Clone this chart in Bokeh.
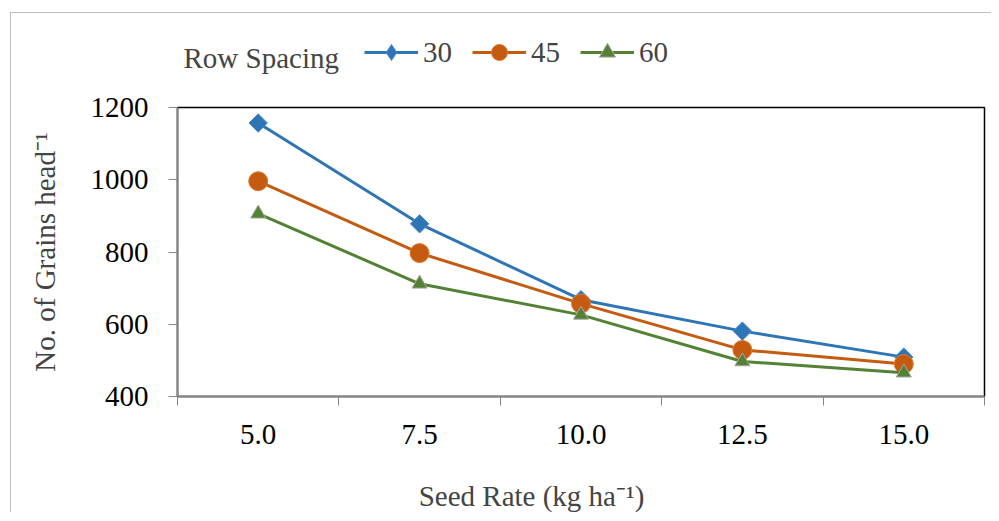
import numpy as np
from bokeh.plotting import figure
from bokeh.layouts import column
from bokeh.models import (Range1d, FixedTicker, NumeralTickFormatter, Legend,
                          LegendItem, Label)
from bokeh.embed import file_html
from bokeh.resources import INLINE

# ---- data ----
seed_rate = [5.0, 7.5, 10.0, 12.5, 15.0]
rs30 = [1157, 878, 668, 581, 509]
rs45 = [996, 797, 657, 529, 490]
rs60 = [906, 712, 626, 497, 466]
y_ticks = [400, 600, 800, 1000, 1200]
series_names = ["30", "45", "60"]
legend_title = "Row Spacing"
x_title = "Seed Rate (kg ha\u207b\u00b9)"
y_title = "No. of Grains head\u207b\u00b9"

FONT = "Liberation Serif"
FS = "29px"
AXIS_GRAY = "#868686"
W = 980

styles = [
    dict(color="#2E75B6", edge="#4A8BCB", marker="square", size=13, angle=np.pi / 4,
         leg_marker="diamond"),
    dict(color="#C55A11", edge="#E07A2E", marker="circle", size=19, angle=0.0,
         leg_marker="circle"),
    dict(color="#548235", edge="#A5A5A5", marker="triangle", size=15, angle=0.0,
         leg_marker="triangle"),
]
series_values = [rs30, rs45, rs60]

step = seed_rate[1] - seed_rate[0]
bounds = [seed_rate[0] - step / 2] + [r + step / 2 for r in seed_rate]


def blank_fig(height):
    f = figure(width=W, height=height, output_backend="svg", toolbar_location=None,
               x_axis_type=None, y_axis_type=None, min_border=0,
               x_range=Range1d(0, 1), y_range=Range1d(0, 1))
    f.outline_line_color = None
    f.background_fill_color = "white"
    f.border_fill_color = "white"
    f.xgrid.visible = False
    f.ygrid.visible = False
    return f


# ---------- top strip: legend (its frame is aligned with the main plot frame) ----------
top = blank_fig(74)
items = []
for name, ys, st in zip(series_names, series_values, styles):
    # swatch renderers: same series, but out of this strip's view, so only the
    # legend swatches are visible
    lr = top.line(seed_rate, ys, line_color=st["color"], line_width=3)
    sw = top.scatter(seed_rate, ys, marker=st["leg_marker"], fill_color=st["color"],
                     line_color=st["edge"], line_width=1)
    items.append(LegendItem(label=name, renderers=[lr, sw]))
legend = Legend(items=items, orientation="horizontal", location=(187, 15),
                padding=0, margin=0, spacing=20, glyph_width=54, glyph_height=40,
                label_height=34, label_standoff=5, label_text_font=FONT,
                label_text_font_size=FS, border_line_color=None,
                background_fill_alpha=0)
top.add_layout(legend)
top.add_layout(Label(x=6, y=30, x_units="screen", y_units="screen",
                     text=legend_title, text_align="left", text_baseline="middle",
                     text_font=FONT, text_font_size=FS))

# ---------- main plot ----------
p = figure(width=W, height=373, output_backend="svg", toolbar_location=None,
           x_range=Range1d(bounds[0], bounds[-1]),
           y_range=Range1d(y_ticks[0], y_ticks[-1]),
           min_border_left=166, min_border_right=7,
           min_border_top=20, min_border_bottom=64)
p.background_fill_color = "white"
p.border_fill_color = "white"
p.outline_line_color = "black"
p.outline_line_width = 1.5
p.xgrid.visible = False
p.ygrid.visible = False

for ys, st in zip(series_values, styles):
    p.line(seed_rate, ys, line_color=st["color"], line_width=3)
    p.scatter(seed_rate, ys, marker=st["marker"], size=st["size"],
              angle=st["angle"], fill_color=st["color"],
              line_color=st["edge"], line_width=1)

# x axis (ticks between categories, labels at the rates)
p.xaxis.ticker = FixedTicker(ticks=seed_rate, minor_ticks=bounds)
p.xaxis.formatter = NumeralTickFormatter(format="0.0")
p.xaxis.major_tick_out = 0
p.xaxis.major_tick_in = 0
p.xaxis.minor_tick_out = 9
p.xaxis.minor_tick_in = 0
p.xaxis.minor_tick_line_color = AXIS_GRAY
p.xaxis.axis_line_color = AXIS_GRAY
p.xaxis.axis_line_width = 2
p.xaxis.major_label_standoff = 19
p.xaxis.major_label_text_font = FONT
p.xaxis.major_label_text_font_size = FS
p.xaxis.major_label_text_color = "black"

# y axis
p.yaxis.ticker = FixedTicker(ticks=y_ticks, minor_ticks=[])
p.yaxis.major_tick_out = 9
p.yaxis.major_tick_in = 0
p.yaxis.major_tick_line_color = AXIS_GRAY
p.yaxis.axis_line_color = AXIS_GRAY
p.yaxis.axis_line_width = 2
p.yaxis.major_label_standoff = 20
p.yaxis.major_label_text_font = FONT
p.yaxis.major_label_text_font_size = FS
p.yaxis.major_label_text_color = "black"
p.yaxis.axis_label = y_title
p.yaxis.axis_label_text_font = FONT
p.yaxis.axis_label_text_font_size = FS
p.yaxis.axis_label_text_font_style = "normal"
p.yaxis.axis_label_standoff = 27

# ---------- bottom strip: x-axis title ----------
bottom = blank_fig(52)
bottom.add_layout(Label(x=354, y=17, x_units="screen", y_units="screen",
                        text=x_title, text_align="center", text_baseline="middle",
                        text_font=FONT, text_font_size=FS))

layout = column(top, p, bottom, spacing=0, margin=(12, 0, 0, 10),
                styles={"border-top": "1px solid #BFBFBF",
                        "border-left": "1px solid #BFBFBF"})

open("out.html", "w").write(file_html(layout, INLINE))
